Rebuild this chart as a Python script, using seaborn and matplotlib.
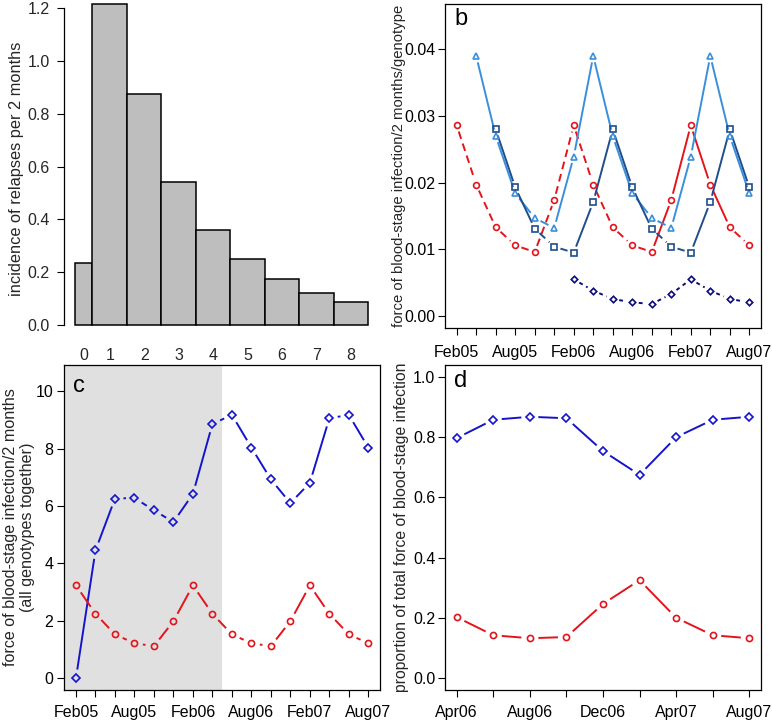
import numpy as np
import matplotlib
matplotlib.use("Agg")
import matplotlib.pyplot as plt
import seaborn as sns

sns.set_theme(style="ticks")
plt.rcParams['font.family'] = ['Liberation Sans', 'DejaVu Sans']

# ---------------- data ----------------
# panel a: relapse incidence per 2 month bin
bin_edges = [0, 0.5, 1.5, 2.5, 3.5, 4.5, 5.5, 6.5, 7.5, 8.5]
bin_labels = ['0', '1', '2', '3', '4', '5', '6', '7', '8']
relapse_incidence = [0.236, 1.216, 0.875, 0.543, 0.361, 0.249, 0.172, 0.121, 0.088]

# panels b, c: two-monthly time points Feb05 .. Aug07
months = ['Feb05', 'Apr05', 'Jun05', 'Aug05', 'Oct05', 'Dec05',
          'Feb06', 'Apr06', 'Jun06', 'Aug06', 'Oct06', 'Dec06',
          'Feb07', 'Apr07', 'Jun07', 'Aug07']
nan = np.nan
b_red = [0.0286, 0.0197, 0.0133, 0.0106, 0.0096, 0.0174,
         0.0286, 0.0197, 0.0133, 0.0106, 0.0096, 0.0174,
         0.0286, 0.0197, 0.0133, 0.0106]
b_light = [nan, 0.0390, 0.0270, 0.0184, 0.0147, 0.0132,
           0.0239, 0.0390, 0.0270, 0.0184, 0.0147, 0.0132,
           0.0239, 0.0390, 0.0270, 0.0184]
b_dark = [nan, nan, 0.0280, 0.0193, 0.0131, 0.0104,
          0.0095, 0.0171, 0.0280, 0.0193, 0.0131, 0.0104,
          0.0095, 0.0171, 0.0280, 0.0193]
b_navy = [nan, nan, nan, nan, nan, nan,
          0.0055, 0.0038, 0.00255, 0.00205, 0.0018, 0.0033,
          0.0055, 0.0038, 0.00255, 0.00205]

c_blue = [0.0, 4.45, 6.26, 6.28, 5.85, 5.44, 6.42, 8.86,
          9.18, 8.04, 6.93, 6.10, 6.81, 9.06, 9.18, 8.04]
c_red = [3.23, 2.24, 1.52, 1.21, 1.11, 1.98, 3.23, 2.24,
         1.52, 1.21, 1.11, 1.98, 3.23, 2.24, 1.52, 1.21]

# panel d: Apr06 .. Aug07
months_d = ['Apr06', 'Jun06', 'Aug06', 'Oct06', 'Dec06', 'Feb07',
            'Apr07', 'Jun07', 'Aug07']
d_blue = [0.797, 0.858, 0.868, 0.863, 0.754, 0.675, 0.800, 0.858, 0.868]
d_red = [0.202, 0.142, 0.132, 0.136, 0.246, 0.325, 0.200, 0.142, 0.132]

# ---------------- styles ----------------
RED = '#E3141C'
LIGHT = '#3A8FDC'
DARK = '#1F4E8A'
NAVY = '#0C0C7A'
BLUE = '#1414CC'
DASH = (0, (4, 2.5))
DOT = (0, (2, 2))
# line type of each segment between consecutive points (panel b)
red_ls = [DASH] * 10 + ['-'] * 4 + [DASH]
light_ls = ['-'] * 15
dark_ls = ['-', '-', '-', '-', DASH, DASH, '-', '-', '-', '-', DASH, DASH, '-', '-', '-']
navy_ls = [DOT] * 15

W, H = 772, 723
fig = plt.figure(figsize=(W / 100, H / 100), dpi=100)


def box(l, r, t, b):
    return [l / W, 1 - b / H, (r - l) / W, (b - t) / H]


def gap_line(ax, ys, styles, color, gap, lw=1.4):
    # R type="b": line segments with a gap around each point
    tr = ax.transData
    inv = tr.inverted()
    for i in range(len(ys) - 1):
        if np.isnan(ys[i]) or np.isnan(ys[i + 1]):
            continue
        p0 = tr.transform((i, ys[i]))
        p1 = tr.transform((i + 1, ys[i + 1]))
        d = p1 - p0
        L = np.hypot(*d)
        if L <= 2 * gap:
            continue
        u = d / L
        q0 = inv.transform(p0 + u * gap)
        q1 = inv.transform(p1 - u * gap)
        ax.plot([q0[0], q1[0]], [q0[1], q1[1]], color=color, lw=lw,
                ls=styles[i], solid_capstyle='butt', dash_capstyle='butt')


def points(ax, ys, marker, color, ms, mew=1.2):
    ax.plot(np.arange(len(ys)), ys, ls='none', marker=marker, ms=ms,
            mfc='none', mec=color, mew=mew)


def frame(ax):
    for s in ax.spines.values():
        s.set_visible(True)
        s.set_color('black')
        s.set_linewidth(0.9)
    ax.tick_params(direction='out', length=5, width=0.8, color='black',
                   labelsize=11.5, labelcolor='black')


def panel_tag(ax, txt, dy):
    ax.annotate(txt, xy=(0, 1), xycoords='axes fraction', xytext=(9, -dy),
                textcoords='offset pixels', ha='left', va='baseline',
                fontsize=17, color='black')


# ---------------- panel a ----------------
axa = fig.add_axes(box(63.5, 380, 0, 338))
centers = [(bin_edges[i] + bin_edges[i + 1]) / 2 for i in range(len(bin_labels))]
sns.histplot(x=centers, weights=relapse_incidence, bins=bin_edges, ax=axa,
             color='#BEBEBE', edgecolor='black', linewidth=1.1, alpha=1)
axa.set_xlim(-0.34, 8.84)
axa.set_ylim(-0.05, 1.232)
for s in ['top', 'right', 'bottom']:
    axa.spines[s].set_visible(False)
axa.spines['left'].set_bounds(0, 1.2)
axa.spines['left'].set_color('black')
axa.spines['left'].set_linewidth(0.9)
axa.set_yticks(np.arange(0, 1.21, 0.2))
axa.set_yticklabels([f'{v:.1f}' for v in np.arange(0, 1.21, 0.2)])
axa.set_xticks([0.25] + list(range(1, 9)))
axa.set_xticklabels(bin_labels)
axa.tick_params(axis='y', direction='out', length=5, width=0.8, color='black',
                labelsize=11.5, pad=5)
axa.tick_params(axis='x', length=0, labelsize=11.5, pad=7)
axa.set_xlabel('')
axa.set_ylabel('incidence of relapses per 2 months', fontsize=11.8)
axa.yaxis.set_label_coords(-0.125, 0.5)

# ---------------- panel b ----------------
axb = fig.add_axes(box(445, 761, 4, 328))
axb.set_xlim(-0.6, 15.6)
axb.set_ylim(-0.0018, 0.0468)
gap_line(axb, b_red, red_ls, RED, 6.5)
gap_line(axb, b_light, light_ls, LIGHT, 6.5)
gap_line(axb, b_dark, dark_ls, DARK, 6.5)
gap_line(axb, b_navy, navy_ls, NAVY, 6.5)
points(axb, b_red, 'o', RED, 4.2)
points(axb, b_light, '^', LIGHT, 4.5)
points(axb, b_dark, 's', DARK, 3.8)
points(axb, b_navy, 'D', NAVY, 3.3)
frame(axb)
axb.set_xticks(range(16))
axb.set_xticklabels([m if i % 3 == 0 else '' for i, m in enumerate(months)])
axb.set_yticks([0, 0.01, 0.02, 0.03, 0.04])
axb.set_yticklabels(['0.00', '0.01', '0.02', '0.03', '0.04'])
axb.tick_params(axis='y', pad=2)
axb.tick_params(axis='x', pad=7)
axb.set_ylabel('force of blood-stage infection/2 months/genotype', fontsize=10.7)
axb.yaxis.set_label_coords(-0.122, 0.5)
panel_tag(axb, 'b', 21)

# ---------------- panel c ----------------
axc = fig.add_axes(box(64.3, 380, 365, 690))
axc.set_xlim(-0.6, 15.6)
axc.set_ylim(-0.42, 10.92)
axc.axvspan(-0.6, 7.5, color='#E0E0E0', lw=0, zorder=0)
gap_line(axc, c_blue, ['-'] * 15, BLUE, 8.5)
gap_line(axc, c_red, ['-'] * 15, RED, 8.5)
points(axc, c_blue, 'D', BLUE, 4.2)
points(axc, c_red, 'o', RED, 4.4)
frame(axc)
axc.set_xticks(range(16))
axc.set_xticklabels([m if i % 3 == 0 else '' for i, m in enumerate(months)])
axc.set_yticks(range(0, 11, 2))
axc.tick_params(axis='y', pad=3)
axc.tick_params(axis='x', pad=6)
axc.set_ylabel('force of blood-stage infection/2 months\n(all genotypes together)',
               fontsize=11.6, linespacing=1.12)
axc.yaxis.set_label_coords(-0.093, 0.5)
panel_tag(axc, 'c', 27)

# ---------------- panel d ----------------
axd = fig.add_axes(box(445, 761, 365, 690))
axd.set_xlim(-0.32, 8.32)
axd.set_ylim(-0.04, 1.04)
gap_line(axd, d_blue, ['-'] * 8, BLUE, 8.5)
gap_line(axd, d_red, ['-'] * 8, RED, 8.5)
points(axd, d_blue, 'D', BLUE, 4.2)
points(axd, d_red, 'o', RED, 4.4)
frame(axd)
axd.set_xticks(range(9))
axd.set_xticklabels([m if i % 2 == 0 else '' for i, m in enumerate(months_d)])
axd.set_yticks(np.arange(0, 1.01, 0.2))
axd.set_yticklabels([f'{v:.1f}' for v in np.arange(0, 1.01, 0.2)])
axd.tick_params(axis='y', pad=2)
axd.tick_params(axis='x', pad=6)
axd.set_ylabel('proportion of total force of blood-stage infection', fontsize=11.3)
axd.yaxis.set_label_coords(-0.115, 0.5)
panel_tag(axd, 'd', 22)

fig.savefig('out.png', dpi=100)
